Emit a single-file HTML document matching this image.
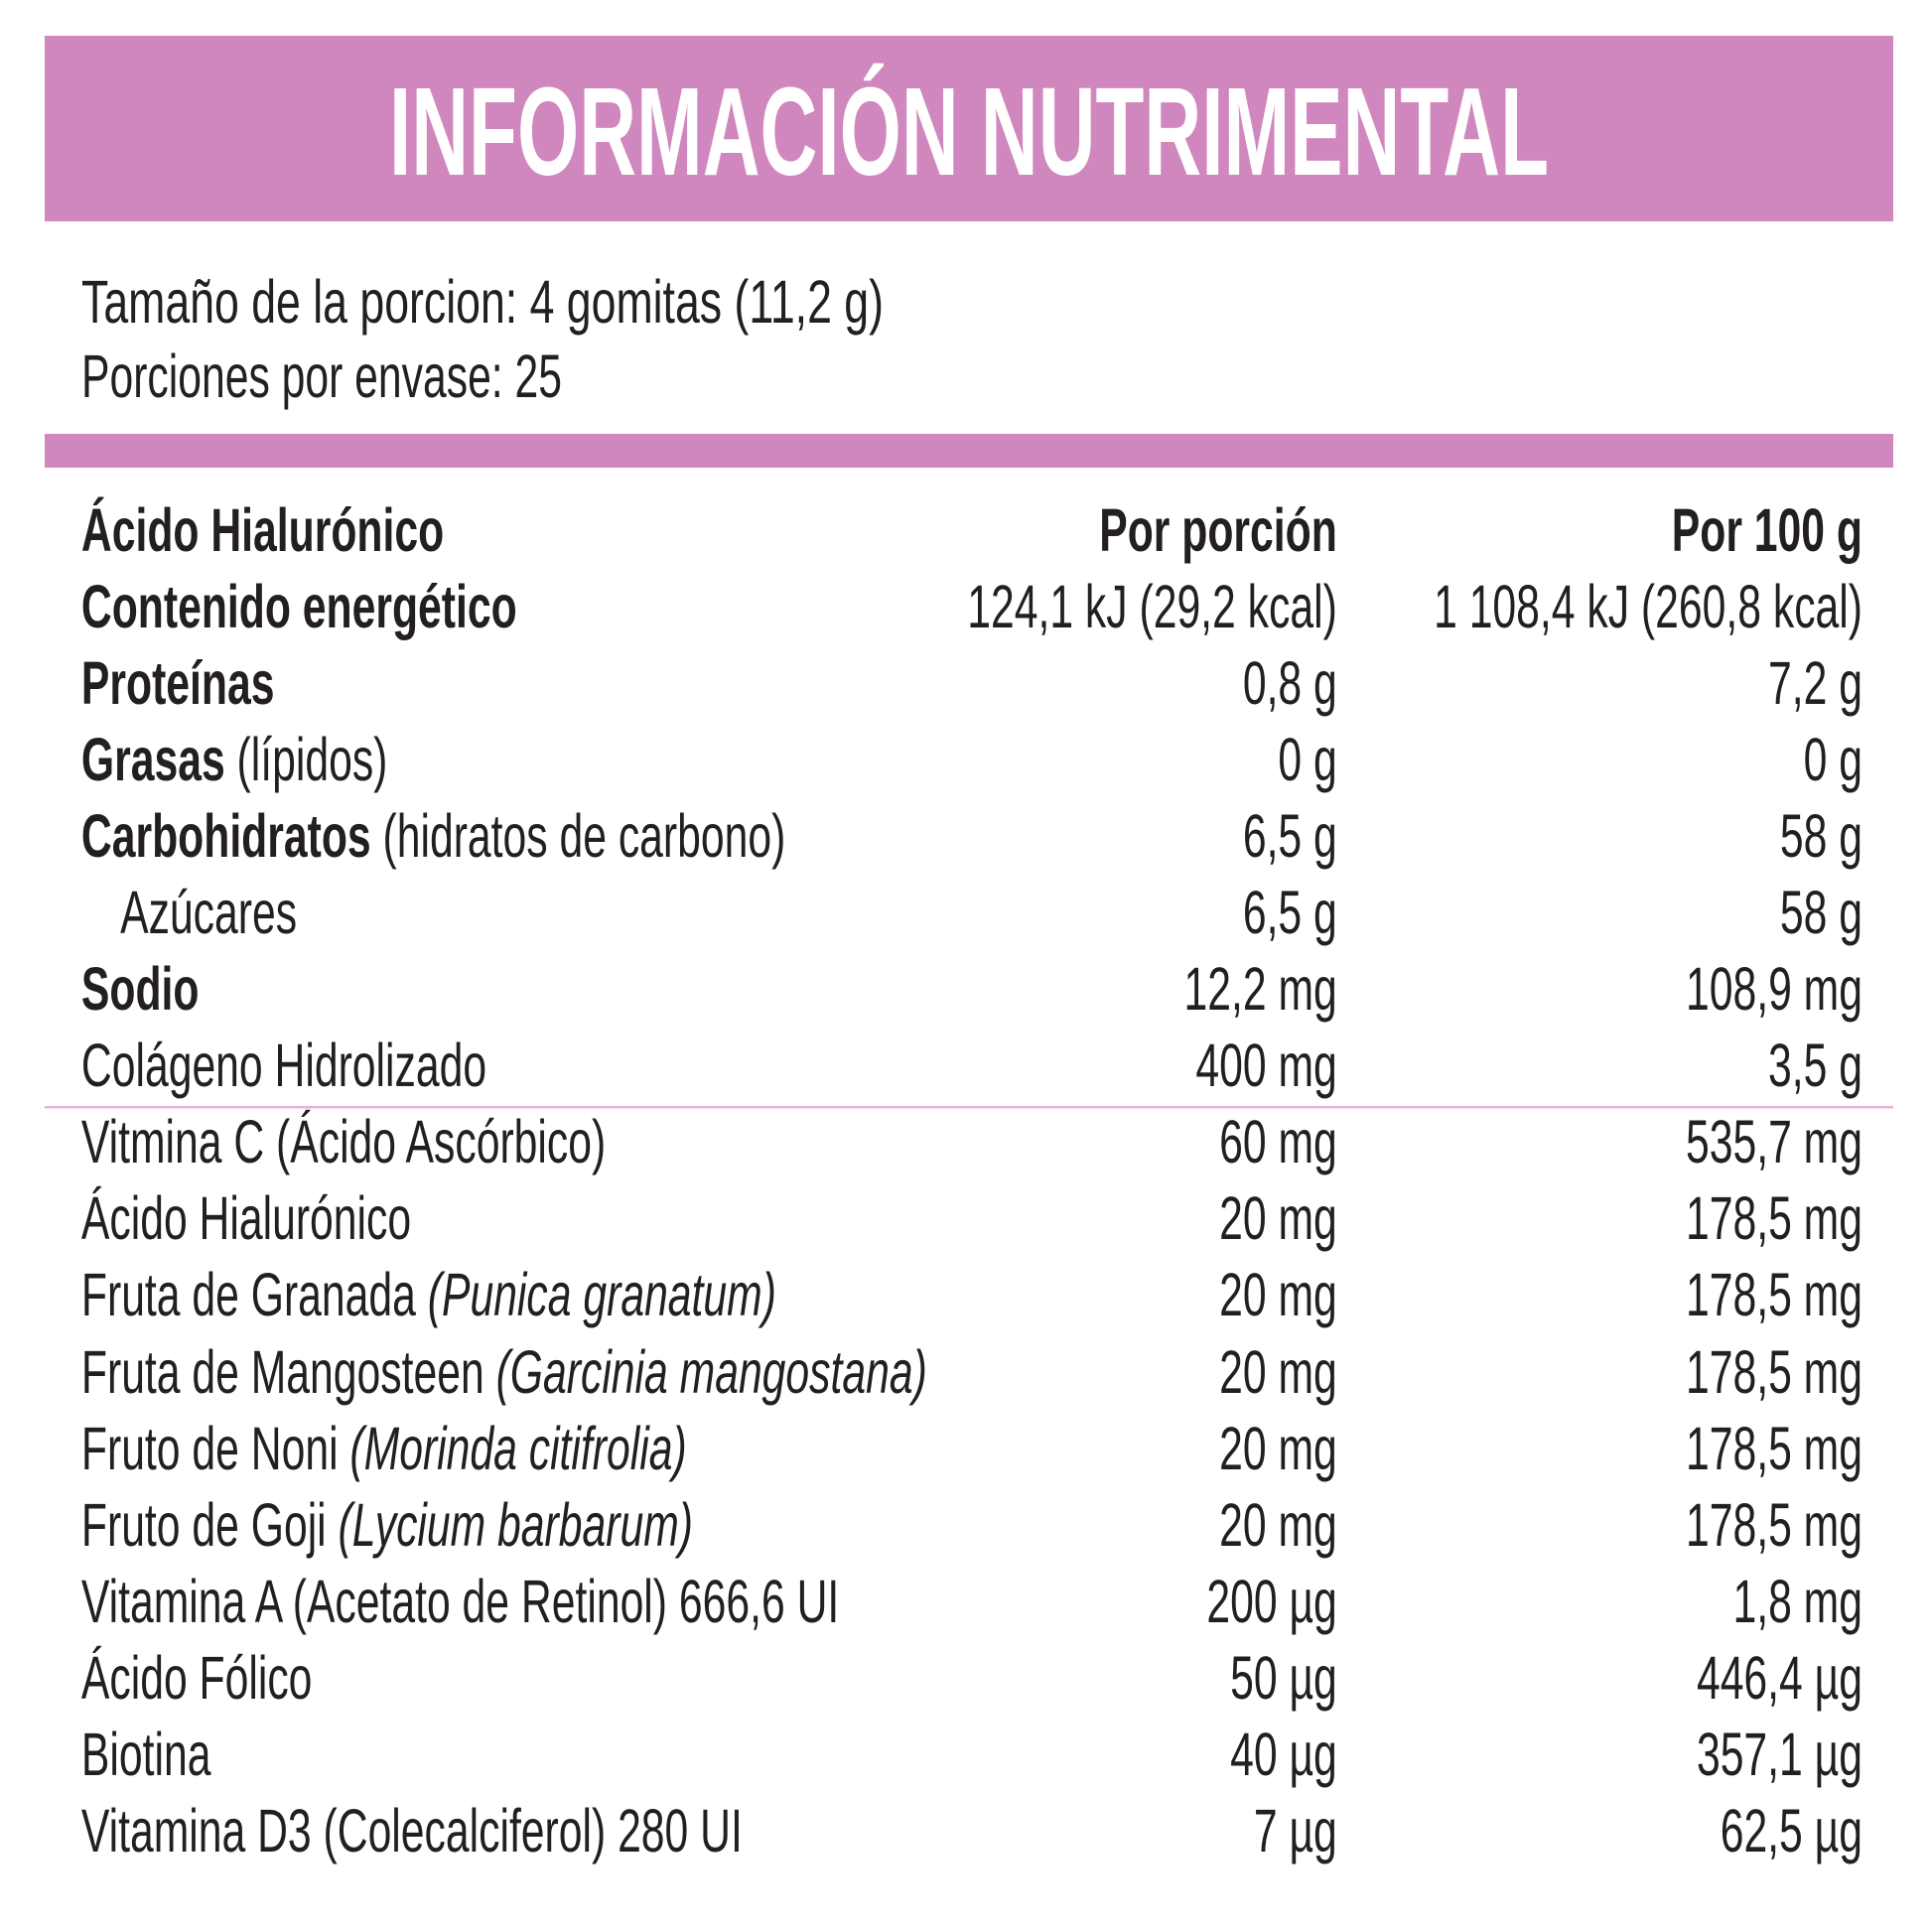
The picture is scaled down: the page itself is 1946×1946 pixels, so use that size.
<!DOCTYPE html>
<html><head><meta charset="utf-8">
<style>
html,body{margin:0;padding:0;background:#fff;}
svg{display:block;}
text{font-family:"Liberation Sans",sans-serif;fill:#231f20;}
</style></head>
<body>
<svg width="1946" height="1946" viewBox="0 0 1946 1946" xmlns="http://www.w3.org/2000/svg">
<rect x="45" y="36" width="1862" height="187" fill="#d087be"/>
<text x="392" y="176" font-size="126" font-weight="bold" style="fill:#fff" textLength="1168" lengthAdjust="spacingAndGlyphs">INFORMACIÓN NUTRIMENTAL</text>
<text x="82" y="325" font-size="61" textLength="808" lengthAdjust="spacingAndGlyphs">Tamaño de la porcion: 4 gomitas (11,2 g)</text>
<text x="82" y="400" font-size="61" textLength="484" lengthAdjust="spacingAndGlyphs">Porciones por envase: 25</text>
<rect x="45" y="437" width="1862" height="34" fill="#d087be"/>
<rect x="45" y="1114" width="1862" height="2.5" fill="#e2b6d6"/>
<g transform="scale(0.70,1)" font-size="61">
<g>
<text x="117" y="555" font-weight="bold">Ácido Hialurónico</text>
<text x="117" y="632" font-weight="bold">Contenido energético</text>
<text x="117" y="709" font-weight="bold">Proteínas</text>
<text x="117" y="786"><tspan font-weight="bold">Grasas</tspan> (lípidos)</text>
<text x="117" y="863"><tspan font-weight="bold">Carbohidratos</tspan> (hidratos de carbono)</text>
<text x="173" y="940">Azúcares</text>
<text x="117" y="1017" font-weight="bold">Sodio</text>
<text x="117" y="1094">Colágeno Hidrolizado</text>
<text x="117" y="1171">Vitmina C (Ácido Ascórbico)</text>
<text x="117" y="1248">Ácido Hialurónico</text>
<text x="117" y="1325">Fruta de Granada <tspan font-style="italic">(Punica granatum)</tspan></text>
<text x="117" y="1403">Fruta de Mangosteen <tspan font-style="italic">(Garcinia mangostana)</tspan></text>
<text x="117" y="1480">Fruto de Noni <tspan font-style="italic">(Morinda citifrolia)</tspan></text>
<text x="117" y="1557">Fruto de Goji <tspan font-style="italic">(Lycium barbarum)</tspan></text>
<text x="117" y="1634">Vitamina A (Acetato de Retinol) 666,6 UI</text>
<text x="117" y="1711">Ácido Fólico</text>
<text x="117" y="1788">Biotina</text>
<text x="117" y="1865">Vitamina D3 (Colecalciferol) 280 UI</text>
</g>
<g text-anchor="end">
<text x="1924" y="555" font-weight="bold">Por porción</text>
<text x="1924" y="632">124,1 kJ (29,2 kcal)</text>
<text x="1924" y="709">0,8 g</text>
<text x="1924" y="786">0 g</text>
<text x="1924" y="863">6,5 g</text>
<text x="1924" y="940">6,5 g</text>
<text x="1924" y="1017">12,2 mg</text>
<text x="1924" y="1094">400 mg</text>
<text x="1924" y="1171">60 mg</text>
<text x="1924" y="1248">20 mg</text>
<text x="1924" y="1325">20 mg</text>
<text x="1924" y="1403">20 mg</text>
<text x="1924" y="1480">20 mg</text>
<text x="1924" y="1557">20 mg</text>
<text x="1924" y="1634">200 µg</text>
<text x="1924" y="1711">50 µg</text>
<text x="1924" y="1788">40 µg</text>
<text x="1924" y="1865">7 µg</text>
</g>
<g text-anchor="end">
<text x="2680" y="555" font-weight="bold">Por 100 g</text>
<text x="2680" y="632">1 108,4 kJ (260,8 kcal)</text>
<text x="2680" y="709">7,2 g</text>
<text x="2680" y="786">0 g</text>
<text x="2680" y="863">58 g</text>
<text x="2680" y="940">58 g</text>
<text x="2680" y="1017">108,9 mg</text>
<text x="2680" y="1094">3,5 g</text>
<text x="2680" y="1171">535,7 mg</text>
<text x="2680" y="1248">178,5 mg</text>
<text x="2680" y="1325">178,5 mg</text>
<text x="2680" y="1403">178,5 mg</text>
<text x="2680" y="1480">178,5 mg</text>
<text x="2680" y="1557">178,5 mg</text>
<text x="2680" y="1634">1,8 mg</text>
<text x="2680" y="1711">446,4 µg</text>
<text x="2680" y="1788">357,1 µg</text>
<text x="2680" y="1865">62,5 µg</text>
</g>
</g>
</svg>
</body></html>
